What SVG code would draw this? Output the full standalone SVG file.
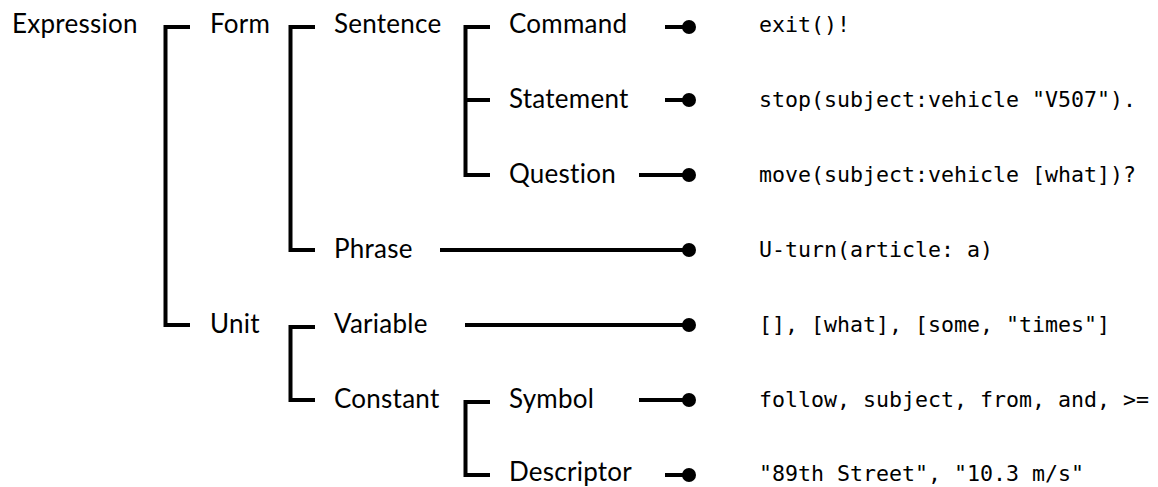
<svg xmlns="http://www.w3.org/2000/svg" width="1158" height="487" viewBox="0 0 1158 487">
<style>
.lbl{font-family:Lato,"Open Sans",sans-serif;font-size:26px;letter-spacing:0.25px;fill:#000}
.code{font-family:"DejaVu Sans Mono","Liberation Mono",monospace;font-size:21.6px;fill:#000}
.ln{stroke:#000;stroke-width:4;fill:none}
.dot{fill:#000}
</style>
<rect width="1158" height="487" fill="#fff"/>
<g id="connectors">
<path class="ln" d="M190,27 H165.5 V325 H190"/>
<path class="ln" d="M315,27 H290.5 V250 H315"/>
<path class="ln" d="M490,27 H465.5 V175 H490"/>
<path class="ln" d="M465.5,100 H490"/>
<path class="ln" d="M315,327 H290.5 V400 H315"/>
<path class="ln" d="M490,402 H465.5 V475 H490"/>
<path class="ln" d="M665,27 H689"/><circle class="dot" cx="689" cy="27" r="7"/>
<path class="ln" d="M665,100 H689"/><circle class="dot" cx="689" cy="100" r="7"/>
<path class="ln" d="M639,175 H689"/><circle class="dot" cx="689" cy="175" r="7"/>
<path class="ln" d="M440,250 H689"/><circle class="dot" cx="689" cy="250" r="7"/>
<path class="ln" d="M465,325 H689"/><circle class="dot" cx="689" cy="325" r="7"/>
<path class="ln" d="M639,400 H689"/><circle class="dot" cx="689" cy="400" r="7"/>
<path class="ln" d="M665,475 H689"/><circle class="dot" cx="689" cy="475" r="7"/>
</g>
<g id="expression"><text class="lbl" x="12" y="33">Expression</text></g>
<g id="form"><text class="lbl" x="210" y="33">Form</text></g>
<g id="sentence"><text class="lbl" x="334" y="33">Sentence</text></g>
<g id="command"><text class="lbl" x="509" y="33">Command</text></g>
<g id="statement"><text class="lbl" x="509" y="108">Statement</text></g>
<g id="question"><text class="lbl" x="509" y="183">Question</text></g>
<g id="phrase"><text class="lbl" x="334" y="258">Phrase</text></g>
<g id="unit"><text class="lbl" x="210" y="333">Unit</text></g>
<g id="variable"><text class="lbl" x="334" y="333">Variable</text></g>
<g id="constant"><text class="lbl" x="334" y="408">Constant</text></g>
<g id="symbol"><text class="lbl" x="509" y="408">Symbol</text></g>
<g id="descriptor"><text class="lbl" x="509" y="481">Descriptor</text></g>
<g id="ex-command"><text class="code" x="759" y="32">exit()!</text></g>
<g id="ex-statement"><text class="code" x="759" y="107">stop(subject:vehicle "V507").</text></g>
<g id="ex-question"><text class="code" x="759" y="182">move(subject:vehicle [what])?</text></g>
<g id="ex-phrase"><text class="code" x="759" y="257">U-turn(article: a)</text></g>
<g id="ex-variable"><text class="code" x="759" y="332">[], [what], [some, "times"]</text></g>
<g id="ex-symbol"><text class="code" x="759" y="407">follow, subject, from, and, &gt;=</text></g>
<g id="ex-descriptor"><text class="code" x="759" y="481">"89th Street", "10.3 m/s"</text></g>
</svg>
